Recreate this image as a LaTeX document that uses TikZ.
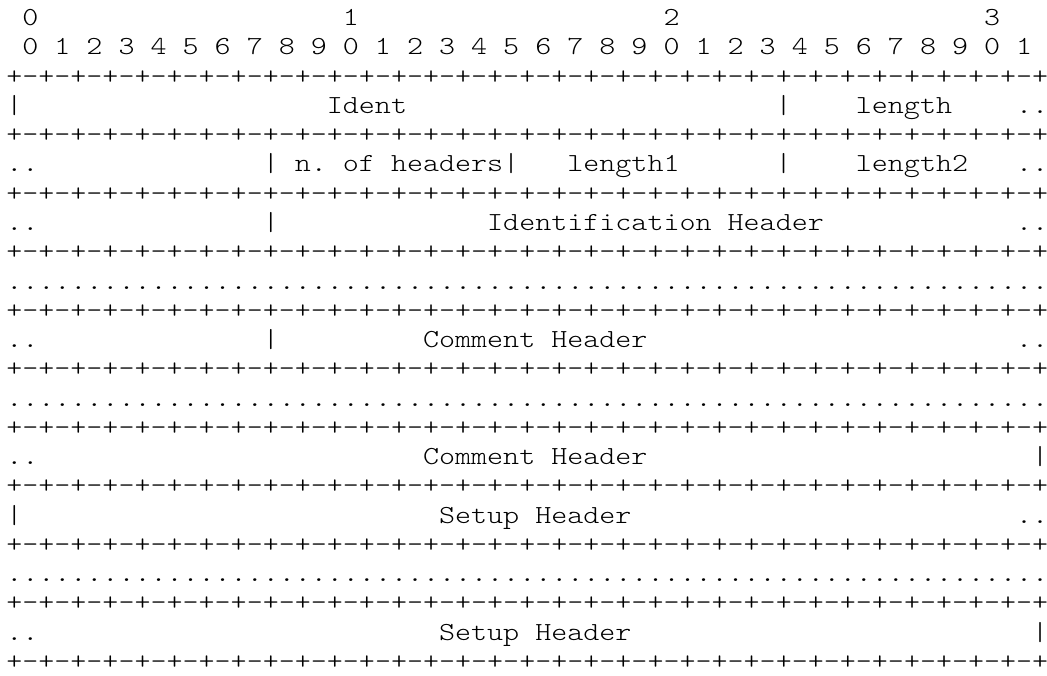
\documentclass[tikz,border=0pt]{standalone}
\usepackage{fontspec}
\setmonofont{lmmonolt10-regular.otf}[FakeStretch=1.1744]
\def\cw{16.03}
\def\ox{6.3}
\def\by{25.6}
\def\lh{29.27}
\def\bd{+-+-+-+-+-+-+-+-+-+-+-+-+-+-+-+-+-+-+-+-+-+-+-+-+-+-+-+-+-+-+-+-+}
\def\dt{.................................................................}
\newcommand\cell[4]{\node[txt] (#1) at ({\ox+#3*\cw},{675-\by-#2*\lh}) {#4};}
\tikzset{txt/.style={anchor=base west, inner sep=0pt, outer sep=0pt, text=black,
  font=\ttfamily\fontsize{26}{29}\selectfont}}
\begin{document}
\begin{tikzpicture}[x=1pt,y=1pt]
\path[use as bounding box, fill=white] (0,0) rectangle (1047,675);
% bit ruler
\cell{h0}{0}{1}{0}
\cell{h1}{0}{21}{1}
\cell{h2}{0}{41}{2}
\cell{h3}{0}{61}{3}
\cell{bits}{1}{1}{0 1 2 3 4 5 6 7 8 9 0 1 2 3 4 5 6 7 8 9 0 1 2 3 4 5 6 7 8 9 0 1}
% borders
\foreach \r in {2,4,6,8,10,12,14,16,18,20,22}{\cell{b\r}{\r}{0}{\bd}}
% row 3
\cell{r3a}{3}{0}{|}
\cell{r3b}{3}{20}{Ident}
\cell{r3c}{3}{48}{|}
\cell{r3d}{3}{53}{length}
\cell{r3e}{3}{63}{..}
% row 5
\cell{r5a}{5}{0}{..}
\cell{r5b}{5}{16}{|}
\cell{r5c}{5}{18}{n. of headers}
\cell{r5d}{5}{31}{|}
\cell{r5e}{5}{35}{length1}
\cell{r5f}{5}{48}{|}
\cell{r5g}{5}{53}{length2}
\cell{r5h}{5}{63}{..}
% row 7
\cell{r7a}{7}{0}{..}
\cell{r7b}{7}{16}{|}
\cell{r7c}{7}{30}{Identification Header}
\cell{r7d}{7}{63}{..}
% row 9
\cell{r9}{9}{0}{\dt}
% row 11
\cell{r11a}{11}{0}{..}
\cell{r11b}{11}{16}{|}
\cell{r11c}{11}{26}{Comment Header}
\cell{r11d}{11}{63}{..}
% row 13
\cell{r13}{13}{0}{\dt}
% row 15
\cell{r15a}{15}{0}{..}
\cell{r15b}{15}{26}{Comment Header}
\cell{r15c}{15}{64}{|}
% row 17
\cell{r17a}{17}{0}{|}
\cell{r17b}{17}{27}{Setup Header}
\cell{r17c}{17}{63}{..}
% row 19
\cell{r19}{19}{0}{\dt}
% row 21
\cell{r21a}{21}{0}{..}
\cell{r21b}{21}{27}{Setup Header}
\cell{r21c}{21}{64}{|}
\end{tikzpicture}
\end{document}
